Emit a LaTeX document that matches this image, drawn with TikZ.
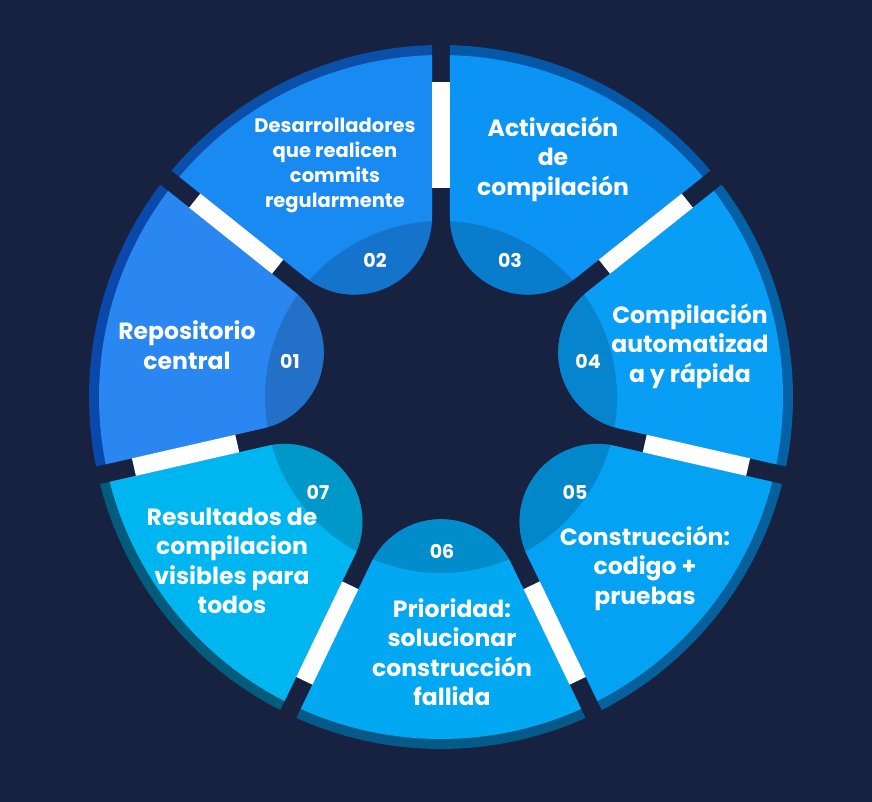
\documentclass[tikz,border=0pt]{standalone}
\usepackage{fontspec}
\setmainfont{Poppins}
\usepackage{tikz}
\usepackage{xcolor}
\definecolor{navybg}{RGB}{23,34,64}
\definecolor{bodyA}{RGB}{42,134,240}\definecolor{rimA}{RGB}{10,72,170}
\definecolor{bodyB}{RGB}{24,138,242}\definecolor{rimB}{RGB}{11,79,168}
\definecolor{bodyC}{RGB}{12,148,244}\definecolor{rimC}{RGB}{5,88,168}
\definecolor{bodyD}{RGB}{8,158,245}\definecolor{rimD}{RGB}{5,97,165}
\definecolor{bodyE}{RGB}{4,162,243}\definecolor{rimE}{RGB}{5,96,156}
\definecolor{bodyF}{RGB}{2,168,242}\definecolor{rimF}{RGB}{6,90,138}
\definecolor{bodyG}{RGB}{0,182,240}\definecolor{rimG}{RGB}{3,92,124}

\begin{document}
\begin{tikzpicture}[x=1pt,y=1pt,
  steptext/.style={text=white, align=center, font=\bfseries\fontsize{23.5}{29.5}\selectfont},
  stepnum/.style={text=white, font=\fontseries{sb}\selectfont\fontsize{19}{19}\selectfont}]
  \fill[navybg] (-441,-405) rectangle (431,397);
  % ring pieces, one per step
  \foreach \ang/\fc/\rc in {167.14/bodyA/rimA, 115.71/bodyB/rimB, 64.29/bodyC/rimC,
      12.86/bodyD/rimD, -38.57/bodyE/rimE, -90/bodyF/rimF, -141.43/bodyG/rimG}{
    \begin{scope}[rotate=\ang]
      \fill[\rc] (24.25:352) arc[start angle=24.25, end angle=-24.25, radius=352]
        -- (166.25,-70.07) arc[start angle=-115.71, end angle=-244.29, radius=77.78] -- cycle;
      \fill[\fc] (24.21:342) arc[start angle=24.21, end angle=-24.21, radius=342]
        -- (166.25,-70.07) arc[start angle=-115.71, end angle=-244.29, radius=77.78] -- cycle;
      \begin{scope}
        \clip (24.21:342) arc[start angle=24.21, end angle=-24.21, radius=342]
          -- (166.25,-70.07) arc[start angle=-115.71, end angle=-244.29, radius=77.78] -- cycle;
        \fill[black, opacity=0.16] (0,0) circle[radius=176];
      \end{scope}
    \end{scope}
  }
  % white bars in the gaps
  \foreach \b in {90,141.43,192.86,244.29,295.71,347.14,38.57}
    \fill[white, rotate=\b] (209,-9) rectangle (315,9);

  \node[steptext] (t01) at (-254,52) {Repositorio\\central};
  \node[steptext, font=\bfseries\fontsize{19.5}{25}\selectfont] (t02) at (-106,232)
    {Desarrolladores\\que realicen\\commits\\regularmente};
  \node[steptext] (t03) at (112,238) {Activación\\de\\compilación};
  \node[steptext] (t04) at (249,51) {Compilación\\automatizad\\a y rápida};
  \node[steptext] (t05) at (204,-171) {Construcción:\\codigo +\\pruebas};
  \node[steptext] (t06) at (11,-255) {Prioridad:\\solucionar\\construcción\\fallida};
  \node[steptext] (t07) at (-209,-164) {Resultados de\\compilacion\\visibles para\\todos};

  \node[stepnum] (n01) at (-151,36) {01};
  \node[stepnum] (n02) at (-66,137) {02};
  \node[stepnum] (n03) at (69,137) {03};
  \node[stepnum] (n04) at (147,36) {04};
  \node[stepnum] (n05) at (134,-95) {05};
  \node[stepnum] (n06) at (1,-154) {06};
  \node[stepnum] (n07) at (-123,-95) {07};
\end{tikzpicture}
\end{document}
